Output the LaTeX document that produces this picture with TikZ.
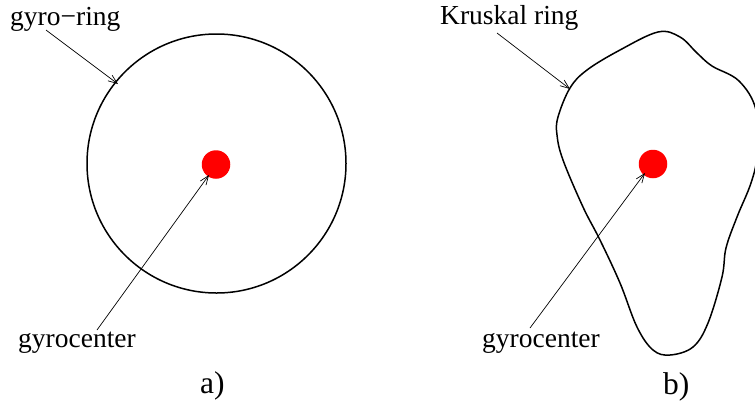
\documentclass[tikz,border=0pt]{standalone}
\usepackage{fontspec}
\setmainfont{Liberation Serif}
\usetikzlibrary{arrows.meta}
\begin{document}
\begin{tikzpicture}[x=1pt,y=-1pt,
  lbl/.style={anchor=base west,inner sep=0pt,font=\fontsize{27.5}{32}\selectfont},
  sub/.style={anchor=base west,inner sep=0pt,font=\fontsize{31.5}{36}\selectfont},
  ptr/.style={line width=0.7pt,-{Straight Barb[length=9pt,width=7pt,line width=0.7pt]}},
  ring/.style={line width=1.5pt},
  dot/.style={circle,fill=red,minimum size=28.5pt,inner sep=0pt}]
\useasboundingbox (0,0) rectangle (755,408);
\clip (0,0) rectangle (755,408);
% a)
\draw[ring] (216.5,163.5) circle (129.5);
\node[dot] (c1) at (216,164.5) {};
\node[lbl] (t1) at (10,25) {gyro\char"2212 ring};
\node[lbl] (g1) at (18,347) {gyrocenter};
\node[sub] (a) at (200,393) {a)};
\coordinate (s1) at (46,30);
\coordinate (e1) at (118,84);
\coordinate (s2) at (97,330);
\coordinate (e2) at (209,175);
\draw[ptr] (s1) -- (e1);
\draw[ptr] (s2) -- (e2);
% b)
\draw[ring] plot[smooth cycle,tension=0.6] coordinates {
 (658,32) (620,50) (587,70) (570,88) (558,117) (557,135) (563,160) (583,207)
 (600,240) (620,283) (637,327) (653,350) (670,355) (693,347) (708,323)
 (722,277) (726,248) (737,217) (751,183) (757,155) (756,110) (739,81)
 (712,66) (697,53) (680,37)};
\node[dot] (c2) at (653,164) {};
\node[lbl] (t2) at (440,24) {Kruskal ring};
\node[lbl] (g2) at (482,347) {gyrocenter};
\node[sub] (b) at (663,394) {b)};
\coordinate (s3) at (497,33);
\coordinate (e3) at (570,89);
\coordinate (s4) at (530,328);
\coordinate (e4) at (645,173);
\draw[ptr] (s3) -- (e3);
\draw[ptr] (s4) -- (e4);
\end{tikzpicture}
\end{document}
